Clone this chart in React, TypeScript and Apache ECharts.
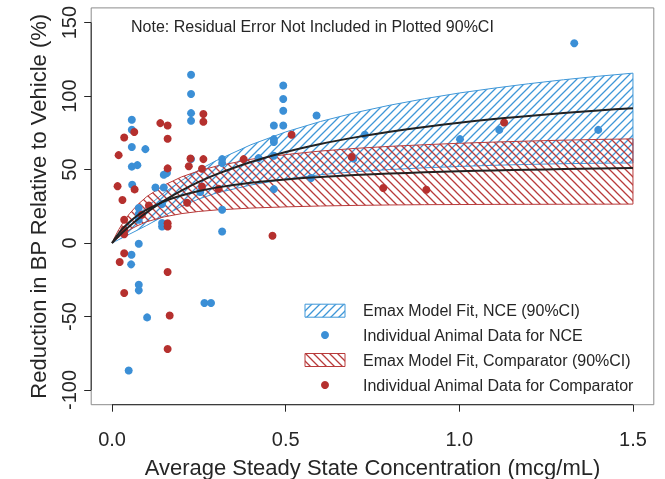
import React, { useEffect, useRef } from "react";
import * as echarts from "echarts";

// Curve grid (concentration, mcg/mL)
const XS = [0, 0.01, 0.02, 0.03, 0.05, 0.075, 0.1, 0.15, 0.2, 0.25, 0.3, 0.4, 0.5, 0.6, 0.7, 0.8, 0.9, 1.0, 1.1, 1.2, 1.3, 1.4, 1.5];
// NCE Emax fit and 90% CI
const NCE_FIT = [0, 2.5, 4.9, 7.2, 11.5, 16.4, 20.9, 28.9, 35.7, 41.6, 46.7, 55.1, 61.9, 67.4, 71.9, 75.7, 79.0, 81.9, 84.4, 86.5, 88.5, 90.2, 91.8];
const NCE_UPPER = [0, 2.9, 5.6, 8.3, 13.3, 19.2, 24.5, 34.2, 42.5, 49.7, 56.1, 66.9, 75.6, 82.7, 88.7, 93.8, 98.2, 102.1, 105.4, 108.4, 111.1, 113.5, 115.6];
const NCE_LOWER = [0, 1.2, 2.4, 3.6, 6, 9, 12, 18.5, 25, 30, 34, 39.5, 43.5, 46.5, 48.5, 50, 51.2, 52.1, 52.9, 53.5, 54, 54.3, 54.5];
// Comparator Emax fit and 90% CI
const CMP_FIT = [0, 3.6, 6.8, 9.6, 14.3, 19.1, 22.8, 28.4, 32.4, 35.4, 37.7, 41.0, 43.3, 45.0, 46.3, 47.3, 48.1, 48.8, 49.4, 49.9, 50.3, 50.7, 51.0];
const CMP_UPPER = [0, 5.0, 9.4, 13.3, 19.9, 26.4, 31.6, 39.4, 45.0, 49.1, 52.3, 57.0, 60.2, 62.6, 64.4, 65.8, 66.9, 67.9, 68.7, 69.4, 70.0, 70.5, 70.9];
const CMP_LOWER = [0, 2, 4, 6, 9, 12, 14.5, 17.8, 20, 21.5, 22.5, 23.8, 24.6, 25.2, 25.6, 25.9, 26.1, 26.2, 26.3, 26.35, 26.4, 26.45, 26.5];

// Individual animal data
const NCE_POINTS = [
  [0.048, -86.7], [0.055, -14.5], [0.056, -8], [0.077, -0.5], [0.077, -28.4], [0.077, -32.2],
  [0.101, -50.6], [0.266, -40.8], [0.285, -40.8], [0.077, 15.9], [0.077, 19.8], [0.077, 23.8],
  [0.144, 11.3], [0.144, 13.6], [0.144, 26.5], [0.317, 7.9], [0.317, 22.7], [0.254, 34.7],
  [0.125, 37.8], [0.149, 37.8], [0.058, 39.7], [0.149, 46.5], [0.158, 47.6], [0.057, 52],
  [0.073, 53], [0.057, 65.3], [0.096, 63.9], [0.057, 77.1], [0.057, 83.9], [0.2275, 57.1],
  [0.2275, 83.2], [0.2275, 88.4], [0.2275, 101.4], [0.2275, 114.5], [0.317, 54.4], [0.317, 57.1],
  [0.422, 57.8], [0.466, 36.7], [0.466, 59.4], [0.466, 68.7], [0.466, 70.7], [0.466, 80],
  [0.493, 80], [0.493, 90], [0.493, 98], [0.493, 107.2], [0.573, 44.2], [0.589, 86.8],
  [0.695, 57.5], [0.728, 73.7], [1.002, 70.7], [1.115, 77], [1.331, 136], [1.4, 77],
];
const CMP_POINTS = [
  [0.016, 38.7], [0.019, 59.8], [0.035, 71.8], [0.064, 75.5], [0.139, 81.6], [0.16, 80],
  [0.16, 71], [0.263, 87.8], [0.263, 82.5], [0.226, 57.5], [0.263, 57.1], [0.221, 52.3],
  [0.259, 50.5], [0.16, 50.8], [0.379, 57.1], [0.517, 73.7], [0.69, 58.5], [0.781, 37.4],
  [0.905, 36.3], [1.129, 82], [0.462, 5], [0.259, 38.5], [0.307, 36.9], [0.065, 36.5],
  [0.03, 29.3], [0.106, 25.5], [0.216, 27.4], [0.086, 19.3], [0.035, 15.9], [0.035, 9],
  [0.035, 6], [0.16, 13.5], [0.16, 11.3], [0.035, -7], [0.022, -12.9], [0.16, -19.7],
  [0.035, -34], [0.166, -49.3], [0.16, -72.1],
];

const X_TICKS = [0, 0.5, 1.0, 1.5];
const Y_TICKS = [-100, -50, 0, 50, 100, 150];

const LEGEND_LABELS = [
  "Emax Model Fit, NCE (90%CI)",
  "Individual Animal Data for NCE",
  "Emax Model Fit, Comparator (90%CI)",
  "Individual Animal Data for Comparator",
];
const NOTE = "Note: Residual Error Not Included in Plotted 90%CI";
const X_NAME = "Average Steady State Concentration (mcg/mL)";
const Y_NAME = "Reduction in BP Relative to Vehicle (%)";

const BLUE = "#3b8fd6";
const RED = "#b5302e";
const BLUE_HATCH = "#3f97d8";
const RED_HATCH = "#b83b3b";
const TEXT = "#262626";
const FONT = "'Liberation Sans', Arial, Helvetica, sans-serif";

function makeHatch(color: string, dir: "/" | "\\") {
  const s = 8;
  const c = document.createElement("canvas");
  c.width = s;
  c.height = s;
  const g = c.getContext("2d")!;
  g.strokeStyle = color;
  g.lineWidth = 1.3;
  g.beginPath();
  if (dir === "/") {
    g.moveTo(0, s); g.lineTo(s, 0);
    g.moveTo(-1, 1); g.lineTo(1, -1);
    g.moveTo(s - 1, s + 1); g.lineTo(s + 1, s - 1);
  } else {
    g.moveTo(0, 0); g.lineTo(s, s);
    g.moveTo(-1, s - 1); g.lineTo(1, s + 1);
    g.moveTo(s - 1, -1); g.lineTo(s + 1, 1);
  }
  g.stroke();
  return { image: c.toDataURL(), repeat: "repeat", imageWidth: s, imageHeight: s };
}

export default function App() {
  const ref = useRef<HTMLDivElement>(null);
  useEffect(() => {
    if (!ref.current) return;
    const chart = echarts.init(ref.current, null, { renderer: "svg" });
    const blueHatch = makeHatch(BLUE_HATCH, "/");
    const redHatch = makeHatch(RED_HATCH, "\\");

    const band = (upper: number[], lower: number[], fill: any, stroke: string) => ({
      type: "custom",
      coordinateSystem: "cartesian2d",
      data: [[0, 0]],
      silent: true,
      renderItem: (_p: any, api: any) => {
        const pts: number[][] = [];
        for (let i = 0; i < XS.length; i++) pts.push(api.coord([XS[i], upper[i]]));
        for (let i = XS.length - 1; i >= 0; i--) pts.push(api.coord([XS[i], lower[i]]));
        return {
          type: "polygon",
          shape: { points: pts },
          style: { fill, stroke, lineWidth: 1 },
        };
      },
    });

    const rowY = [310.7, 335, 360, 385];
    const legendGraphics: any[] = [];
    rowY.forEach((y, i) => {
      if (i === 0 || i === 2) {
        legendGraphics.push({
          type: "rect",
          shape: { x: 305, y: y - 6.5, width: 40, height: 13 },
          style: { fill: i === 0 ? blueHatch : redHatch, stroke: i === 0 ? BLUE_HATCH : RED_HATCH, lineWidth: 1 },
        });
      } else {
        legendGraphics.push({
          type: "circle",
          shape: { cx: 325, cy: y, r: 4 },
          style: { fill: i === 1 ? BLUE : RED },
        });
      }
      legendGraphics.push({
        type: "text",
        x: 363,
        y,
        style: { text: LEGEND_LABELS[i], fontSize: 16, fontFamily: FONT, fill: TEXT, verticalAlign: "middle", align: "left" },
      });
    });

    chart.setOption({
      animation: false,
      grid: {
        left: 91.2, top: 7.9, width: 562.6, height: 396.8,
        show: true, borderColor: "#8c8c8c", borderWidth: 1,
        containLabel: false, outerBoundsMode: "none",
      },
      xAxis: {
        type: "value",
        min: -0.06,
        max: 1.56,
        splitLine: { show: false },
        axisLine: { show: false, onZero: false },
        axisTick: { show: true, customValues: X_TICKS, length: 7, lineStyle: { color: TEXT } },
        axisLabel: {
          customValues: X_TICKS,
          formatter: (v: number) => v.toFixed(1),
          fontSize: 20,
          fontFamily: FONT,
          color: TEXT,
          margin: 24,
        },
        name: X_NAME,
        nameLocation: "middle",
        nameGap: 52,
        nameTextStyle: { fontSize: 22, fontFamily: FONT, color: TEXT },
      },
      yAxis: {
        type: "value",
        min: -110,
        max: 160,
        splitLine: { show: false },
        axisLine: { show: false, onZero: false },
        axisTick: { show: true, customValues: Y_TICKS, length: 7, lineStyle: { color: TEXT } },
        axisLabel: {
          customValues: Y_TICKS,
          rotate: 90,
          fontSize: 20,
          fontFamily: FONT,
          color: TEXT,
          margin: 12,
        },
        name: Y_NAME,
        nameLocation: "middle",
        nameGap: 42,
        nameRotate: 90,
        nameTextStyle: { fontSize: 22, fontFamily: FONT, color: TEXT },
      },
      graphic: [
        {
          type: "text",
          x: 131,
          y: 26.8,
          style: { text: NOTE, fontSize: 16, fontFamily: FONT, fill: TEXT, verticalAlign: "middle" },
        },
        ...legendGraphics,
      ],
      series: [
        band(NCE_UPPER, NCE_LOWER, blueHatch, BLUE_HATCH),
        band(CMP_UPPER, CMP_LOWER, redHatch, RED_HATCH),
        {
          type: "scatter",
          data: NCE_POINTS,
          symbolSize: 8,
          itemStyle: { color: BLUE, opacity: 1 },
          silent: true,
        },
        {
          type: "scatter",
          data: CMP_POINTS,
          symbolSize: 8,
          itemStyle: { color: RED, opacity: 1 },
          silent: true,
        },
        {
          type: "line",
          data: XS.map((x, i) => [x, NCE_FIT[i]]),
          showSymbol: false,
          smooth: 0.2,
          lineStyle: { color: "#222", width: 2 },
          silent: true,
        },
        {
          type: "line",
          data: XS.map((x, i) => [x, CMP_FIT[i]]),
          showSymbol: false,
          smooth: 0.2,
          lineStyle: { color: "#222", width: 2 },
          silent: true,
        },
        {
          type: "line",
          data: [[X_TICKS[0], -110], [X_TICKS[X_TICKS.length - 1], -110]],
          showSymbol: false,
          clip: false,
          lineStyle: { color: TEXT, width: 1 },
          silent: true,
        },
        {
          type: "line",
          data: [[-0.06, Y_TICKS[0]], [-0.06, Y_TICKS[Y_TICKS.length - 1]]],
          showSymbol: false,
          clip: false,
          lineStyle: { color: TEXT, width: 1 },
          silent: true,
        },
      ],
    });
    return () => chart.dispose();
  }, []);
  return <div ref={ref} style={{ position: "fixed", left: 0, top: 0, width: 665, height: 479 }} />;
}
